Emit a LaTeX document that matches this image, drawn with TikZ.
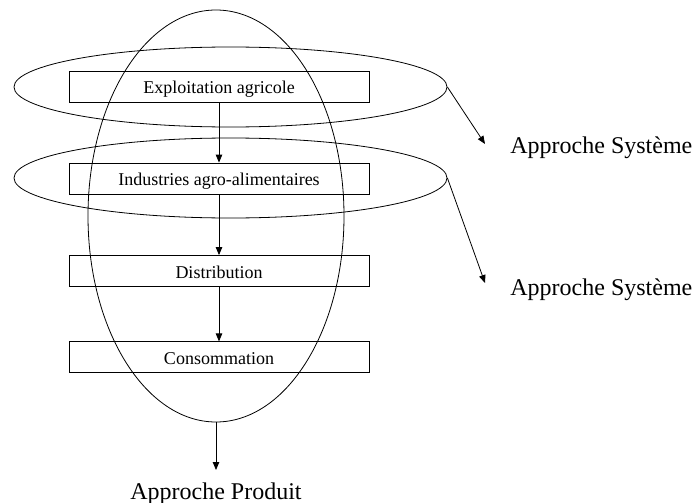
\documentclass[tikz,border=0pt]{standalone}
\usepackage{fontspec}
\setmainfont{Liberation Serif}
\usetikzlibrary{shapes.geometric,arrows.meta}
\begin{document}
\begin{tikzpicture}[x=1pt,y=-1pt,
  line width=0.8pt,
  arr/.style={-{Triangle[length=8pt,width=6.5pt]}},
  stage/.style={draw,minimum width=300pt,minimum height=31pt,inner sep=0pt,
    text height=18pt,text depth=4pt,
    font=\fontsize{18}{21}\selectfont},
  oval/.style={draw,ellipse,inner sep=0pt},
  label/.style={inner sep=0pt,font=\fontsize{24}{28}\selectfont}]
\useasboundingbox (0,0) rectangle (696,503);

% chain of stages
\node[stage] (expl) at (219,86.7) {Exploitation agricole};
\node[stage] (iaa)  at (219,178.5) {Industries agro-alimentaires};
\node[stage] (dist) at (219,271) {Distribution};
\node[stage] (cons) at (219,357.3) {Consommation};

\draw[arr] (expl) -- (iaa);
\draw[arr] (iaa) -- (dist);
\draw[arr] (dist) -- (cons);

% product approach: vertical oval across all stages
\node[oval,minimum width=256pt,minimum height=412pt] (prodoval) at (216,216) {};
% system approach: horizontal ovals around single stages
\node[oval,minimum width=433pt,minimum height=80pt] (sys1) at (230.5,87) {};
\node[oval,minimum width=433pt,minimum height=80pt] (sys2) at (230.5,178) {};

% labels
\node[label,anchor=base west] (lab1) at (510,153) {Approche Système};
\node[label,anchor=base west] (lab2) at (510,295) {Approche Système};
\node[label,anchor=north,inner ysep=12pt] (lab3) at (216,470) {Approche Produit};

\coordinate (tip1) at (485,144);
\coordinate (tip2) at (485,283);
\draw[arr] (sys1.east) -- (tip1);
\draw[arr] (sys2.east) -- (tip2);
\draw[arr] (prodoval.south) -- (lab3.north);
\end{tikzpicture}
\end{document}
